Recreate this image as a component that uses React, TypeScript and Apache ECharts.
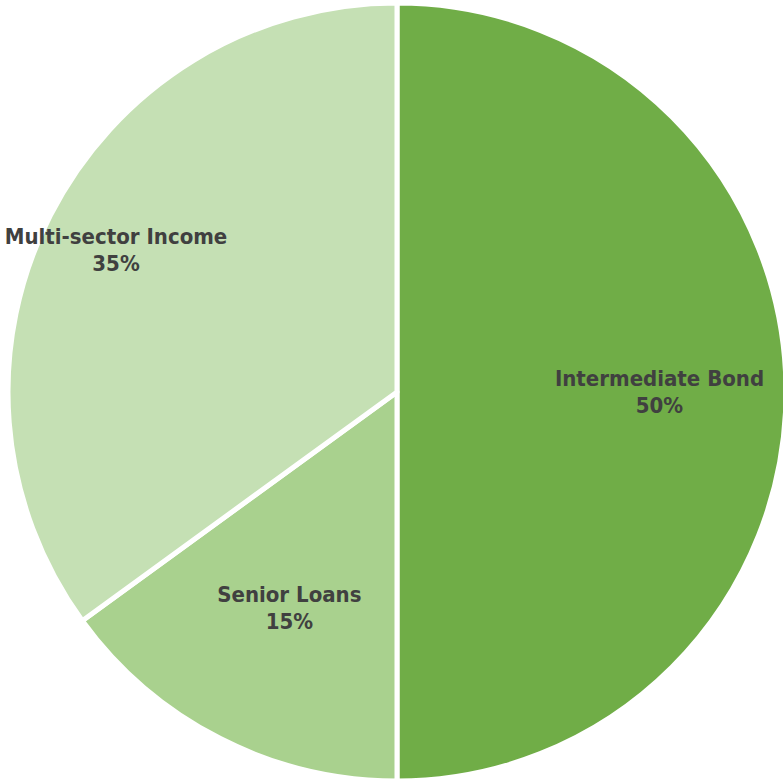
import React, { useEffect, useRef } from "react";
import * as echarts from "echarts";

const categories = ["Intermediate Bond", "Senior Loans", "Multi-sector Income"];
const values = [50, 15, 35];
const colors = ["#70AD47", "#A9D18E", "#C5E0B4"];
const labelOffsets: [number, number][] = [[65, 0], [-18, 40], [-105, -52]];

export default function App() {
  const ref = useRef<HTMLDivElement>(null);
  useEffect(() => {
    document.body.style.margin = "0";
    const chart = echarts.init(ref.current!, null, { renderer: "svg" });
    chart.setOption({
      animation: false,
      backgroundColor: "#ffffff",
      series: [
        {
          type: "pie",
          center: [397, 392],
          radius: [0, 389],
          startAngle: 90,
          clockwise: true,
          itemStyle: { borderColor: "#ffffff", borderWidth: 5 },
          label: {
            show: true,
            position: "inside",
            formatter: "{b}\n{c}%",
            color: "#404040",
            fontFamily: "DejaVu Sans Condensed",
            fontWeight: "bold",
            fontSize: 22,
            lineHeight: 27,
            align: "center",
          },
          labelLine: { show: false },
          emphasis: { disabled: true },
          data: categories.map((name, i) => ({
            name,
            value: values[i],
            itemStyle: { color: colors[i] },
            label: { offset: labelOffsets[i] },
          })),
        },
      ],
    });
    return () => chart.dispose();
  }, []);
  return <div ref={ref} style={{ width: 783, height: 781 }} />;
}
